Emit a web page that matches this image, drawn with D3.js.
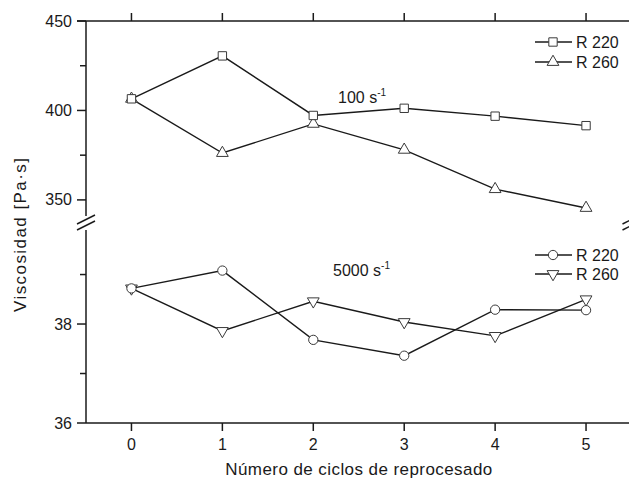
<!DOCTYPE html>
<html>
<head>
<meta charset="utf-8">
<script src="https://cdn.jsdelivr.net/npm/d3@7/dist/d3.min.js"></script>
<style>
  html, body { margin: 0; padding: 0; background: #fff; }
  svg { display: block; }
  text { font-family: "Liberation Sans", Arial, sans-serif; fill: #1a1a1a; }
</style>
</head>
<body>
<svg id="chart" width="629" height="479"></svg>
<script>
// Reprocessing cycles
const cycles = [0, 1, 2, 3, 4, 5];

// Viscosity at 100 s^-1 (Pa·s)
const high_R220 = [406.5, 430.5, 397.2, 401.2, 396.8, 391.5];
const high_R260 = [406.5, 376.2, 392.5, 378.0, 356.0, 345.5];

// Viscosity at 5000 s^-1 (Pa·s)
const low_R220 = [38.72, 39.08, 37.68, 37.36, 38.29, 38.28];
const low_R260 = [38.72, 37.86, 38.46, 38.04, 37.76, 38.50];

const xTicks = [0, 1, 2, 3, 4, 5];
const highTicks = [350, 400, 450];
const highMinor = [375, 425];
const lowTicks = [36, 38];
const lowMinor = [37, 39];

const svg = d3.select("#chart");
const ink = "#1a1a1a";
const fontSize = 16;

// Shared horizontal scale
const x = d3.scaleLinear().domain([-0.5, 5.5]).range([86, 631.5]);

// Two vertical panels for the broken axis
const yHigh = d3.scaleLinear().domain([341, 450]).range([216, 21]);
const yLow = d3.scaleLinear().domain([36, 39.9]).range([423, 230]);

const left = x(-0.5), right = x(5.5);

function axisLine(x1, y1, x2, y2, w) {
  svg.append("line")
    .attr("x1", x1).attr("y1", y1).attr("x2", x2).attr("y2", y2)
    .attr("stroke", ink).attr("stroke-width", w || 1.5);
}

// Left and right vertical axis segments
[left, right].forEach(px => {
  axisLine(px, yHigh.range()[1], px, yHigh.range()[0]);
  axisLine(px, yLow.range()[1], px, yLow.range()[0]);
  // break marks
  [-3, 3].forEach(off => {
    axisLine(px - 9, 222.5 + off + 4.5, px + 9, 222.5 + off - 4.5, 1.5);
  });
});

// Top and bottom frame lines
axisLine(left - 9, yHigh(450), right, yHigh(450));
axisLine(left, yLow(36), right, yLow(36));

// x ticks: bottom (outward) and top (outward)
xTicks.forEach(t => {
  axisLine(x(t), yLow(36), x(t), yLow(36) + 8);
  axisLine(x(t), yHigh(450), x(t), yHigh(450) - 8);
  svg.append("text")
    .attr("x", x(t)).attr("y", yLow(36) + 21)
    .attr("dy", "0.35em")
    .attr("text-anchor", "middle")
    .attr("font-size", fontSize)
    .text(t);
});

// y ticks for both panels
function yTicks(scale, major, minor) {
  major.forEach(v => {
    axisLine(left - 9, scale(v), left, scale(v));
    svg.append("text")
      .attr("x", left - 14).attr("y", scale(v))
      .attr("dy", "0.35em")
      .attr("text-anchor", "end")
      .attr("font-size", fontSize)
      .text(v);
  });
  minor.forEach(v => {
    axisLine(left - 6, scale(v), left, scale(v));
  });
}
yTicks(yHigh, highTicks, highMinor);
yTicks(yLow, lowTicks, lowMinor);

// Axis titles
svg.append("text")
  .attr("x", x(2.5)).attr("y", 475)
  .attr("text-anchor", "middle")
  .attr("font-size", 17)
  .attr("textLength", 267)
  .attr("lengthAdjust", "spacing")
  .text("Número de ciclos de reprocesado");

svg.append("text")
  .attr("transform", "translate(26,235) rotate(-90)")
  .attr("text-anchor", "middle")
  .attr("font-size", 17)
  .attr("textLength", 154)
  .attr("lengthAdjust", "spacing")
  .text("Viscosidad [Pa·s]");

// Series
const markerStroke = "#3a3a3a";
const shapes = {
  square: d3.symbol().type(d3.symbolSquare).size(70),
  triUp: d3.symbol().type(d3.symbolTriangle).size(60),
  circle: d3.symbol().type(d3.symbolCircle).size(68)
};

function series(values, scale, shape, rot) {
  const pts = cycles.map((c, i) => [x(c), scale(values[i])]);
  svg.append("path")
    .attr("d", d3.line()(pts))
    .attr("fill", "none")
    .attr("stroke", ink)
    .attr("stroke-width", 1.4);
  svg.append("g").selectAll("path")
    .data(pts)
    .join("path")
    .attr("transform", d => `translate(${d[0]},${d[1]}) rotate(${rot || 0})`)
    .attr("d", shapes[shape]())
    .attr("fill", "#fff")
    .attr("stroke", markerStroke)
    .attr("stroke-width", 1);
}

series(high_R260, yHigh, "triUp");
series(high_R220, yHigh, "square");
series(low_R260, yLow, "triUp", 180);
series(low_R220, yLow, "circle");

// Shear-rate annotations
function rateLabel(px, py, base) {
  const t = svg.append("text").attr("x", px).attr("y", py).attr("font-size", fontSize);
  t.append("tspan").text(base + " s");
  t.append("tspan").attr("dy", -7).attr("font-size", 10).text("-1");
}
rateLabel(338, 103, "100");
rateLabel(333, 276, "5000");

// Legends
function legend(py, shape, rot, label) {
  axisLine(535, py, 572, py, 1.4);
  svg.append("path")
    .attr("transform", `translate(553,${py}) rotate(${rot || 0})`)
    .attr("d", shapes[shape]())
    .attr("fill", "#fff")
    .attr("stroke", markerStroke)
    .attr("stroke-width", 1);
  svg.append("text")
    .attr("x", 576).attr("y", py)
    .attr("dy", "0.35em")
    .attr("font-size", fontSize)
    .text(label);
}
legend(42, "square", 0, "R 220");
legend(62, "triUp", 0, "R 260");
legend(255, "circle", 0, "R 220");
legend(274, "triUp", 180, "R 260");
</script>
</body>
</html>
